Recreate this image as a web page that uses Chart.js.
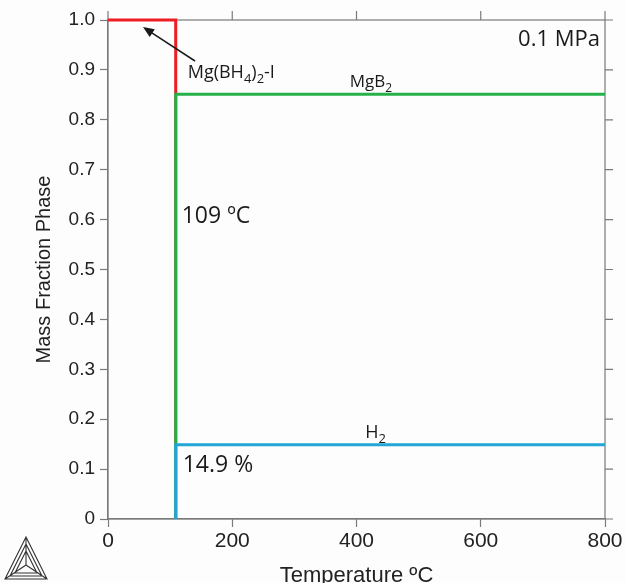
<!DOCTYPE html>
<html>
<head>
<meta charset="utf-8">
<script src="https://cdn.jsdelivr.net/npm/chart.js@4.4.1/dist/chart.umd.min.js"></script>
<style>
  html, body { margin: 0; padding: 0; background: #fdfdfd; }
  #wrap { width: 626px; height: 583px; position: relative; }
</style>
</head>
<body>
<div id="wrap"><canvas id="phase-chart"></canvas></div>
<script>
// phase fractions at 0.1 MPa, temperature in ºC
var tempMgBH4 = [0, 109, 109];
var fracMgBH4 = [1.0, 1.0, 0];
var tempMgB2  = [109, 109, 800];
var fracMgB2  = [0, 0.851, 0.851];
var tempH2    = [109, 109, 800];
var fracH2    = [0, 0.149, 0.149];

var xTicks = [0, 200, 400, 600, 800];
var yTicks = [0, 0.1, 0.2, 0.3, 0.4, 0.5, 0.6, 0.7, 0.8, 0.9, 1.0];

var axisGray = '#7a7a7a';
var axisFont = 'Liberation Sans, Arial, sans-serif';
var noteFont = 'Open Sans, sans-serif';

function pts(xs, ys) {
  return xs.map(function (x, i) { return { x: x, y: ys[i] }; });
}

// text made of [piece, isSubscript] parts
function drawPieces(ctx, x, y, pieces, size) {
  pieces.forEach(function (p) {
    var sub = p[1];
    ctx.font = (sub ? Math.round(size * 0.72) : size) + 'px ' + noteFont;
    ctx.fillText(p[0], x, sub ? y + 5 : y);
    x += ctx.measureText(p[0]).width;
  });
}

var frame = {
  id: 'frame',
  // box and mirrored ticks go under the phase lines
  beforeDatasetsDraw: function (chart) {
    var ctx = chart.ctx;
    var a = chart.chartArea;
    var xs = chart.scales.x, ys = chart.scales.y;
    ctx.save();
    ctx.strokeStyle = axisGray;
    ctx.lineWidth = 1.2;
    ctx.strokeRect(a.left, a.top, a.right - a.left, a.bottom - a.top);
    ctx.beginPath();
    xTicks.forEach(function (v) {
      var px = xs.getPixelForValue(v);
      ctx.moveTo(px, a.top); ctx.lineTo(px, a.top - 9);
    });
    yTicks.forEach(function (v) {
      var py = ys.getPixelForValue(v);
      ctx.moveTo(a.right, py); ctx.lineTo(a.right + 8, py);
    });
    ctx.stroke();
    ctx.restore();
  },
  afterDraw: function (chart) {
    var ctx = chart.ctx;
    var a = chart.chartArea;
    var xs = chart.scales.x, ys = chart.scales.y;
    ctx.save();
    ctx.fillStyle = '#1a1a1a';
    ctx.textBaseline = 'alphabetic';
    ctx.textAlign = 'right';
    ctx.font = '22px ' + noteFont;
    ctx.fillText('0.1 MPa', a.right - 5, 46);
    ctx.textAlign = 'left';

    var x109 = xs.getPixelForValue(109);
    drawPieces(ctx, x109 + 12, 78, [['Mg(BH', 0], ['4', 1], [')', 0], ['2', 1], ['-I', 0]], 18);
    drawPieces(ctx, xs.getPixelForValue(389), ys.getPixelForValue(0.851) - 7, [['MgB', 0], ['2', 1]], 17);
    drawPieces(ctx, xs.getPixelForValue(414), ys.getPixelForValue(0.149) - 7, [['H', 0], ['2', 1]], 18);
    ctx.font = '23px ' + noteFont;
    ctx.fillText('109 ºC', x109 + 6, 223);
    ctx.fillText('14.9 %', x109 + 7, 472);

    // arrow pointing at the Mg(BH4)2-I line
    var hx = 143, hy = 27, tx = 195, ty = 61;
    var ang = Math.atan2(hy - ty, hx - tx);
    ctx.strokeStyle = '#1a1a1a';
    ctx.lineWidth = 1.5;
    ctx.beginPath();
    ctx.moveTo(tx, ty);
    ctx.lineTo(hx - 6 * Math.cos(ang), hy - 6 * Math.sin(ang));
    ctx.stroke();
    ctx.beginPath();
    ctx.moveTo(hx, hy);
    ctx.lineTo(hx - 12 * Math.cos(ang - 0.4), hy - 12 * Math.sin(ang - 0.4));
    ctx.lineTo(hx - 12 * Math.cos(ang + 0.4), hy - 12 * Math.sin(ang + 0.4));
    ctx.closePath();
    ctx.fill();

    // software logo, bottom left
    ctx.strokeStyle = '#333';
    ctx.lineWidth = 1.1;
    var top = [26, 537], bl = [5, 579], br = [47, 579], c = [26, 565];
    ctx.beginPath();
    ctx.moveTo(top[0], top[1]); ctx.lineTo(bl[0], bl[1]); ctx.lineTo(br[0], br[1]); ctx.closePath();
    ctx.moveTo(26, 544); ctx.lineTo(10, 576); ctx.lineTo(42, 576); ctx.closePath();
    ctx.moveTo(26, 551); ctx.lineTo(15, 573); ctx.lineTo(37, 573); ctx.closePath();
    ctx.moveTo(top[0], top[1]); ctx.lineTo(c[0], c[1]);
    ctx.moveTo(bl[0], bl[1]); ctx.lineTo(c[0], c[1]);
    ctx.moveTo(br[0], br[1]); ctx.lineTo(c[0], c[1]);
    ctx.stroke();
    ctx.restore();
  }
};

var ctx = document.getElementById('phase-chart').getContext('2d');
var chart = new Chart(ctx, {
  type: 'scatter',
  data: {
    datasets: [
      { label: 'H2', data: pts(tempH2, fracH2), borderColor: '#22a6d6', clip: 5 },
      { label: 'MgB2', data: pts(tempMgB2, fracMgB2), borderColor: '#26b04a', clip: 5 },
      { label: 'Mg(BH4)2-I', data: pts(tempMgBH4, fracMgBH4), borderColor: '#ee1d23', clip: 5 }
    ]
  },
  options: {
    responsive: true,
    maintainAspectRatio: false,
    animation: false,
    showLine: true,
    elements: {
      line: { borderWidth: 3, tension: 0, borderCapStyle: 'butt' },
      point: { radius: 0, hoverRadius: 0 }
    },
    layout: { padding: { top: 20, right: 21, left: 28, bottom: 0 } },
    plugins: { legend: { display: false }, tooltip: { enabled: false } },
    scales: {
      x: {
        type: 'linear', min: 0, max: 800,
        afterBuildTicks: function (s) { s.ticks = xTicks.map(function (v) { return { value: v }; }); },
        afterFit: function (s) { s.height = 64; },
        grid: { drawOnChartArea: false, tickLength: 8, color: axisGray, tickWidth: 1.2 },
        border: { color: axisGray, width: 1.2 },
        ticks: { color: '#222', padding: 2, font: { family: axisFont, size: 21 } },
        title: { display: true, text: 'Temperature ºC', color: '#222', padding: { top: 0, bottom: -6 },
                 font: { family: axisFont, size: 22 } }
      },
      y: {
        type: 'linear', min: 0, max: 1,
        afterBuildTicks: function (s) { s.ticks = yTicks.map(function (v) { return { value: v }; }); },
        afterFit: function (s) { s.width = 80; },
        grid: { drawOnChartArea: false, tickLength: 8, color: axisGray, tickWidth: 1.2 },
        border: { color: axisGray, width: 1.2 },
        ticks: {
          color: '#222', padding: 5, font: { family: axisFont, size: 19 },
          callback: function (v) { return v === 0 ? '0' : v.toFixed(1); }
        },
        title: { display: true, text: 'Mass Fraction Phase', color: '#222', padding: { top: 4, bottom: 0 },
                 font: { family: axisFont, size: 20 } }
      }
    }
  },
  plugins: [frame]
});
</script>
</body>
</html>
